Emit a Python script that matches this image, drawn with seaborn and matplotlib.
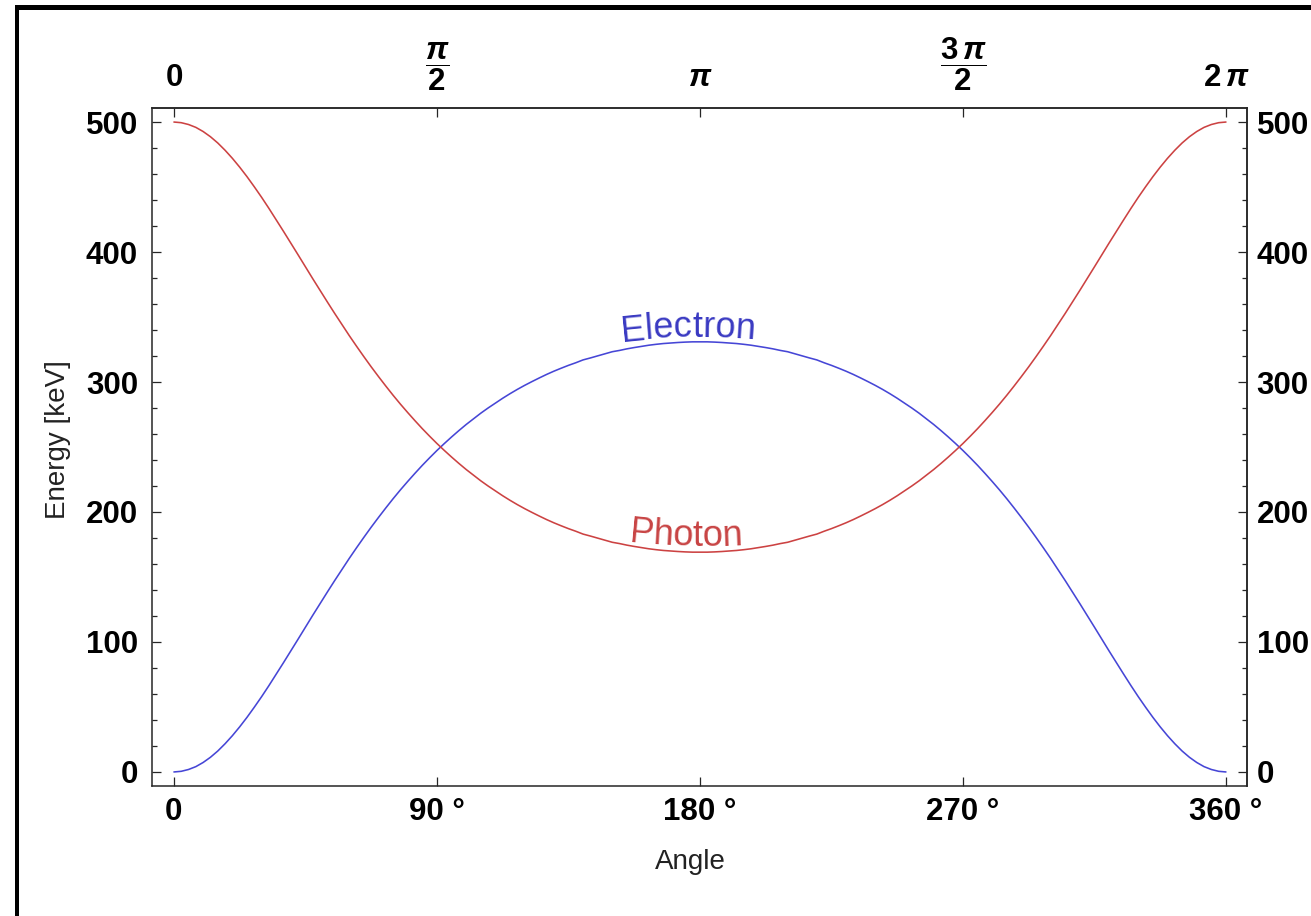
import numpy as np
import pandas as pd
import matplotlib
matplotlib.use("Agg")
import matplotlib.pyplot as plt
import seaborn as sns
from matplotlib.ticker import MultipleLocator, NullLocator
from matplotlib.patches import Rectangle

# ---------------- data ----------------
angles = [i * 2.5 for i in range(145)]  # 0 .. 360 degrees, sampling grid
photon = [
    500.0, 499.5, 498.1, 495.9, 492.7, 488.7, 483.9, 478.3, 472.1, 465.3,
    458.0, 450.2, 442.1, 433.6, 424.8, 415.9, 406.9, 397.8, 388.6, 379.5,
    370.5, 361.6, 352.8, 344.2, 335.7, 327.5, 319.5, 311.7, 304.2, 296.9,
    289.8, 283.0, 276.5, 270.2, 264.1, 258.3, 252.7, 247.4, 242.3, 237.4,
    232.7, 228.3, 224.0, 220.0, 216.2, 212.5, 209.0, 205.7, 202.6, 199.7,
    196.9, 194.2, 191.7, 189.4, 187.2, 185.2, 183.0, 181.5, 179.9, 178.3,
    176.7, 175.7, 174.5, 173.5, 172.6, 171.7, 171.0, 170.4, 170.0, 169.6,
    169.3, 169.1, 169.1,
    169.1, 169.3, 169.6, 170.0, 170.4, 171.0, 171.7, 172.6, 173.5, 174.5,
    175.7, 176.7, 178.3, 179.9, 181.5, 183.0, 185.2, 187.2, 189.4, 191.7,
    194.2, 196.9, 199.7, 202.6, 205.7, 209.0, 212.5, 216.2, 220.0, 224.0,
    228.3, 232.7, 237.4, 242.3, 247.4, 252.7, 258.3, 264.1, 270.2, 276.5,
    283.0, 289.8, 296.9, 304.2, 311.7, 319.5, 327.5, 335.7, 344.2, 352.8,
    361.6, 370.5, 379.5, 388.6, 397.8, 406.9, 415.9, 424.8, 433.6, 442.1,
    450.2, 458.0, 465.3, 472.1, 478.3, 483.9, 488.7, 492.7, 495.9, 498.1,
    499.5, 500.0]
electron = [
    0.0, 0.5, 1.9, 4.1, 7.3, 11.3, 16.1, 21.7, 27.9, 34.7,
    42.0, 49.8, 57.9, 66.4, 75.2, 84.1, 93.1, 102.2, 111.4, 120.5,
    129.5, 138.4, 147.2, 155.8, 164.3, 172.5, 180.5, 188.3, 195.8, 203.1,
    210.2, 217.0, 223.5, 229.8, 235.9, 241.7, 247.3, 252.6, 257.7, 262.6,
    267.3, 271.7, 276.0, 280.0, 283.8, 287.5, 291.0, 294.3, 297.4, 300.3,
    303.1, 305.8, 308.3, 310.6, 312.8, 314.8, 317.0, 318.5, 320.1, 321.7,
    323.3, 324.3, 325.5, 326.5, 327.4, 328.3, 329.0, 329.6, 330.0, 330.4,
    330.7, 330.9, 330.9,
    330.9, 330.7, 330.4, 330.0, 329.6, 329.0, 328.3, 327.4, 326.5, 325.5,
    324.3, 323.3, 321.7, 320.1, 318.5, 317.0, 314.8, 312.8, 310.6, 308.3,
    305.8, 303.1, 300.3, 297.4, 294.3, 291.0, 287.5, 283.8, 280.0, 276.0,
    271.7, 267.3, 262.6, 257.7, 252.6, 247.3, 241.7, 235.9, 229.8, 223.5,
    217.0, 210.2, 203.1, 195.8, 188.3, 180.5, 172.5, 164.3, 155.8, 147.2,
    138.4, 129.5, 120.5, 111.4, 102.2, 93.1, 84.1, 75.2, 66.4, 57.9,
    49.8, 42.0, 34.7, 27.9, 21.7, 16.1, 11.3, 7.3, 4.1, 1.9,
    0.5, 0.0]

x_ticks = [0, 90, 180, 270, 360]
x_tick_labels = ["0", "90 °", "180 °", "270 °", "360 °"]
top_tick_labels = [r"$\mathbf{0}$", r"$\dfrac{\pi}{2}$", r"$\pi$",
                   r"$\dfrac{3\,\pi}{2}$", r"$2\,\pi$"]
y_ticks = [0, 100, 200, 300, 400, 500]
y_tick_labels = ["0", "100", "200", "300", "400", "500"]

df = pd.DataFrame({"Angle": angles, "Photon": photon, "Electron": electron})

# ---------------- style ----------------
sns.set_theme(style="white")
plt.rcParams["font.family"] = ["Liberation Sans", "DejaVu Sans"]
plt.rcParams["font.weight"] = "bold"
plt.rcParams["mathtext.fontset"] = "custom"
plt.rcParams["mathtext.rm"] = "Liberation Sans:bold"
plt.rcParams["mathtext.bf"] = "Liberation Sans:bold"
plt.rcParams["mathtext.it"] = "Liberation Sans:bold:italic"
plt.rcParams["axes.edgecolor"] = "#262626"
plt.rcParams["axes.linewidth"] = 1.1

W, H = 1311, 916
fig = plt.figure(figsize=(W / 100, H / 100), dpi=100)
fig.patch.set_facecolor("white")
ax = fig.add_axes([152 / W, 1 - 786 / H, (1247 - 152) / W, (786 - 108) / H])

blue = "#4646d6"
red = "#cc4242"
sns.lineplot(data=df, x="Angle", y="Electron", ax=ax, color=blue, lw=1.15)
sns.lineplot(data=df, x="Angle", y="Photon", ax=ax, color=red, lw=1.15)

ax.set_xlim(-7.5, 367.2)
ax.set_ylim(-10.8, 510.8)

tick_fs = 22.5
tcol = "#262626"
ax.set_xticks(x_ticks)
ax.set_xticklabels(x_tick_labels, fontsize=tick_fs, fontweight="bold", color="black")
ax.set_yticks(y_ticks)
ax.set_yticklabels(y_tick_labels, fontsize=tick_fs, fontweight="bold", color="black")
ax.yaxis.set_minor_locator(MultipleLocator(20))
ax.xaxis.set_minor_locator(NullLocator())

ax.tick_params(axis="both", which="both", direction="in", color=tcol, width=0.9)
ax.tick_params(axis="x", which="major", bottom=True, top=False, length=6.5, pad=8)
ax.tick_params(axis="y", which="major", left=True, right=False, labelleft=True,
               labelright=False, length=6.5, pad=10)
ax.tick_params(axis="y", which="minor", left=True, right=False, length=3.6)

# right axis (same scale, labels closer to the spine)
secy = ax.secondary_yaxis("right")
secy.set_yticks(y_ticks)
secy.set_yticklabels(y_tick_labels, fontsize=tick_fs, fontweight="bold", color="black")
secy.yaxis.set_minor_locator(MultipleLocator(20))
secy.tick_params(axis="y", which="both", direction="in", color=tcol, width=0.9)
secy.tick_params(axis="y", which="major", length=6.5, pad=7)
secy.tick_params(axis="y", which="minor", length=3.6)
secy.spines["right"].set_color(tcol)
secy.spines["right"].set_linewidth(1.1)

# top axis (multiples of pi)
sec = ax.secondary_xaxis("top")
sec.set_xticks(x_ticks)
sec.set_xticklabels(top_tick_labels, fontsize=tick_fs, color="black")
sec.tick_params(axis="x", direction="in", length=6.5, width=0.9, pad=11, color=tcol)
sec.xaxis.set_minor_locator(NullLocator())
sec.spines["top"].set_color(tcol)
sec.spines["top"].set_linewidth(1.1)

ax.set_xlabel("Angle", fontsize=20, fontweight="normal", color="#222222")
ax.xaxis.set_label_coords((690 - 152) / 1095, (786 - 849) / 678)
ax.set_ylabel("Energy [keV]", fontsize=20, fontweight="normal", color="#222222")
ax.yaxis.set_label_coords((71 - 152) / 1095, (786 - 440) / 678)

# ---------------- curved labels ----------------
fig.canvas.draw()
renderer = fig.canvas.get_renderer()


def text_width(s, **kw):
    if not s:
        return 0.0
    t = ax.text(0, 0, s, **kw)
    w = t.get_window_extent(renderer).width
    t.remove()
    return w


def curved_label(text, xs, ys, x_center, offset_px, damp=0.6, **kw):
    pts = ax.transData.transform(np.column_stack([xs, ys]))
    px, py = pts[:, 0], pts[:, 1]
    seg = np.hypot(np.diff(px), np.diff(py))
    s = np.concatenate([[0.0], np.cumsum(seg)])
    xc = ax.transData.transform((x_center, 0))[0]
    s_c = np.interp(xc, px, s)
    yc = np.interp(s_c, s, py)
    total = text_width(text, **kw)
    s0 = s_c - total / 2
    inv = ax.transData.inverted()
    for i, ch in enumerate(text):
        wp = text_width(text[:i], **kw)
        wc = text_width(ch, **kw)
        sc = s0 + wp + wc / 2
        X = np.interp(sc, s, px)
        Y = yc + damp * (np.interp(sc, s, py) - yc)
        dx = np.interp(sc + 2, s, px) - np.interp(sc - 2, s, px)
        dy = np.interp(sc + 2, s, py) - np.interp(sc - 2, s, py)
        ang = np.arctan2(dy, dx) * damp
        nx, ny = -np.sin(ang), np.cos(ang)
        dxp, dyp = inv.transform((X + nx * offset_px, Y + ny * offset_px))
        ax.text(dxp, dyp, ch, ha="center", va="baseline", rotation=np.degrees(ang),
                rotation_mode="anchor", **kw)


curved_label("Electron", angles, electron, 176, 5,
             fontsize=26, fontweight="normal", color="#3a3ac2")
curved_label("Photon", angles, photon, 175, 6,
             fontsize=26, fontweight="normal", color="#c84444")

# ---------------- screenshot frame ----------------
fig.add_artist(Rectangle((15 / W, 1 - 10 / H), 1 - 15 / W, 5 / H,
                         transform=fig.transFigure, facecolor="black",
                         edgecolor="none", zorder=10))
fig.add_artist(Rectangle((15 / W, 0), 4 / W, 1 - 5 / H,
                         transform=fig.transFigure, facecolor="black",
                         edgecolor="none", zorder=10))

fig.savefig("out.png", dpi=100, facecolor="white")
